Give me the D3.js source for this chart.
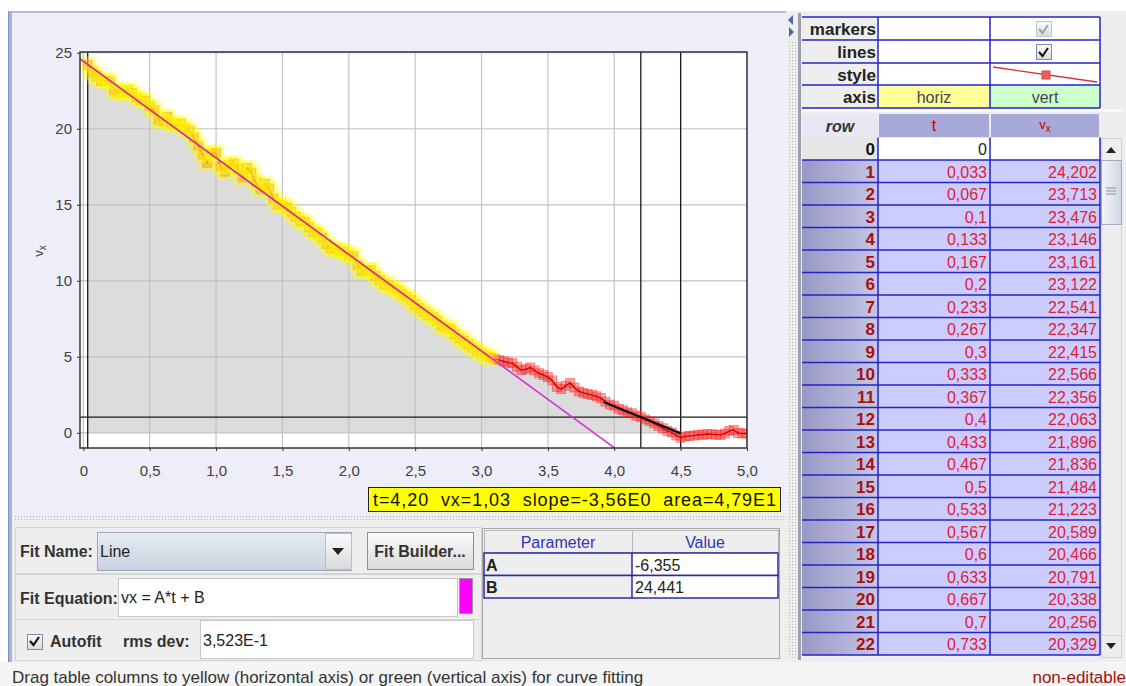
<!DOCTYPE html>
<html>
<head>
<meta charset="utf-8">
<script src="https://cdn.jsdelivr.net/npm/d3@7"></script>
<style>
  body { margin: 0; background: #fff; }
  svg { display: block; font-family: "Liberation Sans", Arial, sans-serif; }
</style>
</head>
<body>
<div id="chart"></div>
<script>
// ---------------  DATA  ---------------
// vx per video frame (row 0 has no velocity)
const vx = [null,
  24.202, 23.713, 23.476, 23.146, 23.161, 23.122, 22.541, 22.347, 22.415, 22.566,
  22.356, 22.063, 21.896, 21.836, 21.484, 21.223, 20.589, 20.466, 20.791, 20.338,
  20.256, 20.329, 20.02, 19.85, 19.42, 18.86, 18.31, 17.76, 18.38, 18.41,
  17.52, 17.18, 17.63, 17.71, 17.36, 16.79, 17.42, 17.12, 16.48, 16.02,
  16.37, 16.08, 15.41, 15.02, 14.96, 14.83, 14.52, 14.21, 13.93, 13.88,
  13.52, 13.20, 13.12, 12.82, 12.41, 12.15, 12.08, 11.96, 11.88, 11.70,
  11.61, 11.02, 10.64, 10.71, 10.69, 10.32, 10.05, 9.78, 9.70, 9.52,
  9.36, 9.14, 8.95, 8.73, 8.43, 8.20, 7.98, 7.75, 7.61, 7.38,
  7.05, 6.92, 6.81, 6.49, 6.22, 6.05, 5.83, 5.60, 5.41, 5.22,
  5.05, 4.96, 4.86, 4.78, 4.70, 4.62, 4.58, 4.35, 4.12, 4.18,
  4.30, 4.10, 3.92, 3.80, 3.66, 3.45, 3.02, 2.88, 3.10, 3.28,
  2.98, 2.72, 2.62, 2.56, 2.48, 2.40, 2.28, 2.05, 1.86, 1.78,
  1.58, 1.48, 1.35, 1.28, 1.12, 1.03, 0.88, 0.76, 0.62, 0.45,
  0.30, 0.12, 0.02, -0.18, -0.32, -0.24, -0.20, -0.18, -0.12, -0.14,
  -0.08, -0.10, -0.12, -0.14, -0.05, 0.12, 0.18, -0.02, -0.05, -0.04
];
const frameDt = 1 / 30;            // time between frames
const fitRows = [1, 92];           // rows selected (yellow) for the fit
const fitParams = [{ name: "A", value: -6.355 }, { name: "B", value: 24.441 }];
const rmsDev = 0.3523;
const cursorT = 4.20, cursorVx = 1.03, cursorSlope = -3.56;
const slopeSpan = [3.92, 4.5];
const areaRange = [0.033, 4.5], areaValue = 47.9;
const xTicks = [0, 0.5, 1, 1.5, 2, 2.5, 3, 3.5, 4, 4.5, 5];
const yTicks = [0, 5, 10, 15, 20, 25];
const visibleRows = 23;

// ---------------  HELPERS  ---------------
const comma = v => String(v).replace(".", ",");
const fixed = (v, n) => v.toFixed(n).replace(".", ",");
const sci = (v, n) => {
  const e = Math.floor(Math.log10(Math.abs(v)));
  return fixed(v / Math.pow(10, e), n) + "E" + e;
};
const tLabel = v => comma(+v.toFixed(3));

const points = vx.map((v, i) => ({ row: i, t: i * frameDt, v: v })).filter(d => d.v != null);

// ---------------  SVG  ---------------
const W = 1126, H = 686;
const svg = d3.select("#chart").append("svg").attr("width", W).attr("height", H);
const defs = svg.append("defs");

function grad(id, stops, horizontal) {
  const g = defs.append("linearGradient").attr("id", id)
    .attr("x1", 0).attr("y1", 0).attr("x2", horizontal ? 1 : 0).attr("y2", horizontal ? 0 : 1);
  stops.forEach((c, i) => g.append("stop").attr("offset", i / (stops.length - 1)).attr("stop-color", c));
}
grad("btn", ["#fbfbfb", "#dadada"]);
grad("combo", ["#e6ebf2", "#c8d2df"]);
grad("rowlab", ["#9898c4", "#c6c6e6"], true);
grad("thumb", ["#f4f6fa", "#cfd6e2"], true);

const dots = defs.append("pattern").attr("id", "dots").attr("width", 3).attr("height", 3)
  .attr("patternUnits", "userSpaceOnUse");
dots.append("rect").attr("width", 1).attr("height", 1).attr("fill", "#b4b4b4");

defs.append("clipPath").attr("id", "plotClip").append("rect")
  .attr("x", 80).attr("y", 52).attr("width", 667).attr("height", 396);
defs.append("filter").attr("id", "soft").append("feGaussianBlur").attr("stdDeviation", 0.9);

function text(g, x, y, s, o = {}) {
  return g.append("text").attr("x", x).attr("y", y)
    .attr("font-size", o.size || 16)
    .attr("font-weight", o.bold ? "bold" : null)
    .attr("font-style", o.italic ? "italic" : null)
    .attr("text-anchor", o.anchor || "start")
    .attr("dominant-baseline", "central")
    .attr("fill", o.color || "#333")
    .style("white-space", "pre")
    .text(s);
}

// ---------------  BACKGROUND PANELS  ---------------
svg.append("rect").attr("width", W).attr("height", H).attr("fill", "#ffffff");
svg.append("rect").attr("x", 0).attr("y", 662).attr("width", W).attr("height", 24).attr("fill", "#f4f4f4");
// plot panel
svg.append("rect").attr("x", 12).attr("y", 13).attr("width", 774).attr("height", 500).attr("fill", "#eeeefa");
svg.append("rect").attr("x", 8).attr("y", 11).attr("width", 778).attr("height", 2).attr("fill", "#b9bccb");
svg.append("rect").attr("x", 8).attr("y", 11).attr("width", 4).attr("height", 651).attr("fill", "#a3b6d6");
svg.append("rect").attr("x", 8).attr("y", 11).attr("width", 1).attr("height", 651).attr("fill", "#7f93b9");
// horizontal splitter
svg.append("rect").attr("x", 12).attr("y", 513).attr("width", 774).attr("height", 8).attr("fill", "#eeeeee");
svg.append("rect").attr("x", 13).attr("y", 514).attr("width", 772).attr("height", 6).attr("fill", "url(#dots)");
// fit panel
svg.append("rect").attr("x", 12).attr("y", 521).attr("width", 774).attr("height", 141).attr("fill", "#eeeeee");
// vertical splitter
svg.append("rect").attr("x", 786).attr("y", 11).attr("width", 12).attr("height", 651).attr("fill", "#eeeeee");
svg.append("rect").attr("x", 788).attr("y", 40).attr("width", 8).attr("height", 620).attr("fill", "url(#dots)");
svg.append("path").attr("d", "M793,15 L788,20 L793,25 Z").attr("fill", "#4a6aa8");
svg.append("path").attr("d", "M789,27 L794,32 L789,37 Z").attr("fill", "#4a6aa8");
// right panel
svg.append("rect").attr("x", 798).attr("y", 11).attr("width", 328).attr("height", 651).attr("fill", "#eeeeee");
svg.append("rect").attr("x", 798).attr("y", 13).attr("width", 3).attr("height", 647).attr("fill", "#9aa0ae");

// ---------------  PLOT  ---------------
const x = d3.scaleLinear().domain([-0.025, 5.0]).range([80, 747]);
const y = d3.scaleLinear().domain([-1, 25.05]).range([448, 52]);

const plot = svg.append("g");
plot.append("rect").attr("x", 80).attr("y", 52).attr("width", 667).attr("height", 396).attr("fill", "#ffffff");
const inner = plot.append("g").attr("clip-path", "url(#plotClip)");

// area under curve
const areaPts = points.filter(d => d.t >= areaRange[0] - 1e-6 && d.t <= areaRange[1] + 1e-6);
inner.append("path")
  .datum(areaPts)
  .attr("d", d3.area().x(d => x(d.t)).y0(y(0)).y1(d => y(d.v)))
  .attr("fill", "#dcdcdc");

// grid
inner.selectAll(".gx").data(xTicks).enter().append("line")
  .attr("x1", d => x(d)).attr("x2", d => x(d)).attr("y1", 52).attr("y2", 448)
  .attr("stroke", "#c2c2c2").attr("stroke-width", 1.2);
inner.selectAll(".gy").data(yTicks).enter().append("line")
  .attr("y1", d => y(d)).attr("y2", d => y(d)).attr("x1", 80).attr("x2", 747)
  .attr("stroke", "#c2c2c2").attr("stroke-width", 1.2);

// area bounds, cursor
[areaRange[0], cursorT, areaRange[1]].forEach(t => {
  inner.append("line").attr("x1", x(t)).attr("x2", x(t)).attr("y1", 52).attr("y2", 448)
    .attr("stroke", "#1a1a1a").attr("stroke-width", 1.3);
});
inner.append("line").attr("x1", 80).attr("x2", 747).attr("y1", y(cursorVx)).attr("y2", y(cursorVx))
  .attr("stroke", "#1a1a1a").attr("stroke-width", 1.3);

// data markers and line
inner.selectAll(".mk").data(points).enter().append("rect")
  .attr("x", d => x(d.t) - 4.5).attr("y", d => y(d.v) - 4.5)
  .attr("width", 9).attr("height", 9)
  .attr("fill", "#ff1a1a").attr("fill-opacity", 0.38)
  .attr("stroke", "#ff2020").attr("stroke-opacity", 0.5).attr("stroke-width", 0.8);
inner.append("path").datum(points)
  .attr("d", d3.line().x(d => x(d.t)).y(d => y(d.v)))
  .attr("fill", "none").attr("stroke", "#c80000").attr("stroke-width", 1.3);

// highlighted (fit) points over the data
const fitPts = points.filter(d => d.row >= fitRows[0] && d.row <= fitRows[1]);
inner.append("g").attr("filter", "url(#soft)")
  .selectAll(".hl").data(fitPts).enter().append("rect")
  .attr("x", d => x(d.t) - 8).attr("y", d => y(d.v) - 8)
  .attr("width", 16).attr("height", 16)
  .attr("fill", "#ffff00").attr("fill-opacity", 0.45);

// fit line
const fitFn = t => fitParams[0].value * t + fitParams[1].value;
const fitEnd = fitPts[fitPts.length - 1].t;
inner.append("line")
  .attr("x1", x(-0.025)).attr("y1", y(fitFn(-0.025)))
  .attr("x2", x(5.0)).attr("y2", y(fitFn(5.0)))
  .attr("stroke", "#d633d6").attr("stroke-width", 1.6);
inner.append("line")
  .attr("x1", x(-0.025)).attr("y1", y(fitFn(-0.025)))
  .attr("x2", x(fitEnd)).attr("y2", y(fitFn(fitEnd)))
  .attr("stroke", "#e8285a").attr("stroke-opacity", 0.7).attr("stroke-width", 1.4);

// slope line at cursor
inner.append("line")
  .attr("x1", x(slopeSpan[0])).attr("y1", y(cursorVx + cursorSlope * (slopeSpan[0] - cursorT)))
  .attr("x2", x(slopeSpan[1])).attr("y2", y(cursorVx + cursorSlope * (slopeSpan[1] - cursorT)))
  .attr("stroke", "#111").attr("stroke-width", 2.2);

// frame
plot.append("rect").attr("x", 80).attr("y", 52).attr("width", 667).attr("height", 396)
  .attr("fill", "none").attr("stroke", "#333").attr("stroke-width", 1.5);

// axes
const xAxis = plot.append("g").attr("transform", "translate(0,448)")
  .call(d3.axisBottom(x).tickValues(xTicks).tickSize(3).tickPadding(14).tickFormat(d => fixed(d, d === 0 ? 0 : 1)));
const yAxis = plot.append("g").attr("transform", "translate(80,0)")
  .call(d3.axisLeft(y).tickValues(yTicks).tickSize(3).tickPadding(5).tickFormat(d => d));
[xAxis, yAxis].forEach(a => {
  a.select(".domain").remove();
  a.selectAll("line").attr("stroke", "#333");
  a.selectAll("text").attr("font-size", 15).attr("fill", "#404040")
    .attr("font-family", "\"Liberation Sans\", Arial, sans-serif");
});

// y label
const yl = plot.append("text").attr("transform", "translate(43,251) rotate(-90)")
  .attr("text-anchor", "middle").attr("font-size", 13).attr("fill", "#444");
yl.append("tspan").text("v");
yl.append("tspan").attr("font-size", 10).attr("dy", 3).text("x");

// readout box
svg.append("rect").attr("x", 368.5).attr("y", 487.5).attr("width", 412).attr("height", 24)
  .attr("fill", "#ffff00").attr("stroke", "#222").attr("stroke-width", 1);
text(svg, 373, 500,
  "t=" + fixed(cursorT, 2) + "  vx=" + fixed(cursorVx, 2) + "  slope=" + sci(cursorSlope, 2) + "  area=" + sci(areaValue, 2),
  { size: 18, color: "#111" })
  .attr("textLength", 403).attr("lengthAdjust", "spacing");

// ---------------  FIT PANEL  ---------------
const fp = svg.append("g");
function box(g, x0, y0, w, h, fill, stroke) {
  return g.append("rect").attr("x", x0 + 0.5).attr("y", y0 + 0.5).attr("width", w).attr("height", h)
    .attr("fill", fill).attr("stroke", stroke || "#c4c4c4");
}
box(fp, 15, 527, 466, 46, "#eeeeee", "#d4d4d4");
box(fp, 15, 574, 466, 45, "#eeeeee", "#d4d4d4");
box(fp, 15, 619, 466, 41, "#eeeeee", "#d4d4d4");

text(fp, 20, 551, "Fit Name:", { bold: true });
box(fp, 97, 532, 254, 38, "url(#combo)", "#9aa8bd");
box(fp, 325, 533, 26, 36, "url(#btn)", "#b4bfce");
fp.append("path").attr("d", "M332,548 L344,548 L338,555 Z").attr("fill", "#222");
text(fp, 100, 551, "Line", { color: "#222" });
box(fp, 367, 532, 106, 37, "url(#btn)", "#8e8e8e");
text(fp, 420, 551, "Fit Builder...", { bold: true, anchor: "middle" });

text(fp, 20, 598, "Fit Equation:", { bold: true });
box(fp, 118, 578, 339, 38, "#ffffff", "#c8c8c8");
text(fp, 121, 597, "vx = A*t + B", { color: "#222" });
box(fp, 459, 578, 13, 35, "#ff00ff", "#999");

box(fp, 27, 634, 15, 15, "url(#btn)", "#7d8da8");
fp.append("path").attr("d", "M30,641 L33.5,645 L39,637").attr("fill", "none").attr("stroke", "#111").attr("stroke-width", 2.2);
text(fp, 50, 641, "Autofit", { bold: true });
text(fp, 123, 641, "rms dev:", { bold: true });
box(fp, 200, 620, 273, 38, "#ffffff", "#c8c8c8");
text(fp, 203, 640, sci(rmsDev, 3), { color: "#222" });

// parameter table
const pt = svg.append("g");
box(pt, 482, 528, 297, 130, "#eeeeee", "#a8a8a8");
box(pt, 484, 530, 148, 22, "#eeeeee", "#b8b8b8");
box(pt, 632, 530, 146, 22, "#eeeeee", "#b8b8b8");
text(pt, 558, 542, "Parameter", { color: "#3434b4", anchor: "middle" });
text(pt, 705, 542, "Value", { color: "#3434b4", anchor: "middle" });
fitParams.forEach((p, i) => {
  const top = 553 + i * 22.5;
  pt.append("rect").attr("x", 484).attr("y", top).attr("width", 148).attr("height", 22.5).attr("fill", "#eeeeee");
  pt.append("rect").attr("x", 632).attr("y", top).attr("width", 146).attr("height", 22.5).attr("fill", "#ffffff");
  text(pt, 486, top + 12, p.name, { bold: true, color: "#222" });
  text(pt, 635, top + 12, comma(p.value), { color: "#222" });
  pt.append("rect").attr("x", 484).attr("y", top).attr("width", 294).attr("height", 22.5)
    .attr("fill", "none").attr("stroke", "#2a2aa8").attr("stroke-width", 1.5);
});
pt.append("line").attr("x1", 632).attr("x2", 632).attr("y1", 553).attr("y2", 598).attr("stroke", "#2a2aa8").attr("stroke-width", 1.5);

// ---------------  RIGHT TABLES  ---------------
const rt = svg.append("g");
const cols = [802, 878, 990, 1100];
const headRows = ["markers", "lines", "style", "axis"];
const headTop = [17, 40, 63, 85, 108];
headRows.forEach((name, i) => {
  const y0 = headTop[i], h = headTop[i + 1] - y0;
  rt.append("rect").attr("x", cols[0]).attr("y", y0).attr("width", cols[1] - cols[0]).attr("height", h).attr("fill", "#eeeeee");
  rt.append("rect").attr("x", cols[1]).attr("y", y0).attr("width", cols[2] - cols[1]).attr("height", h)
    .attr("fill", name === "axis" ? "#ffff99" : "#ffffff");
  rt.append("rect").attr("x", cols[2]).attr("y", y0).attr("width", cols[3] - cols[2]).attr("height", h)
    .attr("fill", name === "axis" ? "#ccffcc" : "#ffffff");
  text(rt, 876, y0 + h / 2 + 1, name, { bold: true, size: 17, anchor: "end", color: "#222" });
});
text(rt, 934, 97, "horiz", { anchor: "middle", size: 16, color: "#444" });
text(rt, 1045, 97, "vert", { anchor: "middle", size: 16, color: "#444" });
// checkboxes
[[29, "#9aa3b0", "#c0c6d0"], [52, "#111", "#7d8da8"]].forEach(([cy, chk, brd]) => {
  box(rt, 1036, cy - 8, 15, 15, "url(#btn)", brd);
  rt.append("path").attr("d", `M1039,${cy} L1042.5,${cy + 4} L1048,${cy - 4}`)
    .attr("fill", "none").attr("stroke", chk).attr("stroke-width", 2);
});
// style swatch
rt.append("line").attr("x1", 993).attr("y1", 67).attr("x2", 1097).attr("y2", 82)
  .attr("stroke", "#cc3333").attr("stroke-width", 1.3);
rt.append("rect").attr("x", 1042).attr("y", 71).attr("width", 8).attr("height", 8)
  .attr("fill", "#f06060").attr("stroke", "#e04040");
headTop.forEach(v => rt.append("line").attr("x1", cols[0]).attr("x2", cols[3]).attr("y1", v).attr("y2", v)
  .attr("stroke", "#2323c8").attr("stroke-width", 1.5));
cols.slice(1).forEach(v => rt.append("line").attr("x1", v).attr("x2", v).attr("y1", 17).attr("y2", 108)
  .attr("stroke", "#2323c8").attr("stroke-width", 1.5));
rt.append("line").attr("x1", 802).attr("x2", 1124).attr("y1", 110.5).attr("y2", 110.5).attr("stroke", "#ffffff").attr("stroke-width", 2);

// data table header
const hTop = 114, hH = 23.5;
rt.append("rect").attr("x", 802).attr("y", hTop).attr("width", 76).attr("height", hH).attr("fill", "#e8e8f4");
rt.append("rect").attr("x", 879).attr("y", hTop).attr("width", 110).attr("height", hH).attr("fill", "#a9a9d9");
rt.append("rect").attr("x", 991).attr("y", hTop).attr("width", 108).attr("height", hH).attr("fill", "#a9a9d9");
text(rt, 840, hTop + 12, "row", { bold: true, italic: true, anchor: "middle", size: 16, color: "#333" });
text(rt, 934, hTop + 11, "t", { anchor: "middle", size: 16, color: "#c80000" });
const vh = rt.append("text").attr("x", 1045).attr("y", hTop + 15).attr("text-anchor", "middle")
  .attr("font-size", 13).attr("fill", "#c80000");
vh.append("tspan").text("v");
vh.append("tspan").attr("font-size", 10).attr("dy", 3).text("x");

// data rows
const rowTop = 137.5, rowH = 22.5;
const rows = d3.range(visibleRows).map(i => ({ row: i, t: i * frameDt, v: vx[i] }));
const rg = rt.selectAll(".row").data(rows).enter().append("g");
rg.append("rect").attr("x", 802).attr("y", d => rowTop + d.row * rowH).attr("width", 76).attr("height", rowH)
  .attr("fill", d => d.row === 0 ? "#e6e6e6" : "url(#rowlab)");
rg.append("rect").attr("x", 878).attr("y", d => rowTop + d.row * rowH).attr("width", 222).attr("height", rowH)
  .attr("fill", d => d.row === 0 ? "#ffffff" : "#ccccff");
rg.append("text").attr("x", 875).attr("y", d => rowTop + d.row * rowH + 12)
  .attr("text-anchor", "end").attr("dominant-baseline", "central")
  .attr("font-size", 17).attr("font-weight", "bold")
  .attr("fill", d => d.row === 0 ? "#111" : "#a81010").text(d => d.row);
rg.append("text").attr("x", 987).attr("y", d => rowTop + d.row * rowH + 12)
  .attr("text-anchor", "end").attr("dominant-baseline", "central").attr("font-size", 16)
  .attr("fill", d => d.row === 0 ? "#222" : "#e0203a").text(d => tLabel(d.t));
rg.append("text").attr("x", 1097).attr("y", d => rowTop + d.row * rowH + 12)
  .attr("text-anchor", "end").attr("dominant-baseline", "central").attr("font-size", 16)
  .attr("fill", "#e0203a").text(d => d.v == null ? "" : fixed(d.v, 3));
d3.range(1, visibleRows + 1).forEach(i => rt.append("line")
  .attr("x1", 802).attr("x2", 1100).attr("y1", rowTop + i * rowH).attr("y2", rowTop + i * rowH)
  .attr("stroke", "#2323c8").attr("stroke-width", 1.5));
[878, 990, 1100].forEach(v => rt.append("line").attr("x1", v).attr("x2", v)
  .attr("y1", rowTop).attr("y2", rowTop + visibleRows * rowH).attr("stroke", "#2323c8").attr("stroke-width", 1.5));

// scrollbar
const sb = rt.append("g");
box(sb, 1101, 138, 20, 519, "#eeeeee", "#d6d6d6");
box(sb, 1101, 138, 20, 22, "#eeeeee", "#d0d0d0");
sb.append("path").attr("d", "M1106,153 L1116,153 L1111,147 Z").attr("fill", "#222");
box(sb, 1101, 160, 20, 64, "url(#thumb)", "#a2acbe");
[188, 191, 194].forEach(v => sb.append("line").attr("x1", 1106).attr("x2", 1116).attr("y1", v).attr("y2", v)
  .attr("stroke", "#8a94a8"));
box(sb, 1101, 635, 20, 22, "#eeeeee", "#d0d0d0");
sb.append("path").attr("d", "M1106,643 L1116,643 L1111,649 Z").attr("fill", "#222");

// ---------------  STATUS BAR  ---------------
text(svg, 12, 677, "Drag table columns to yellow (horizontal axis) or green (vertical axis) for curve fitting",
  { size: 17, color: "#333" });
text(svg, 1126, 677, "non-editable", { size: 17, color: "#a01010", anchor: "end" });
</script>
</body>
</html>
